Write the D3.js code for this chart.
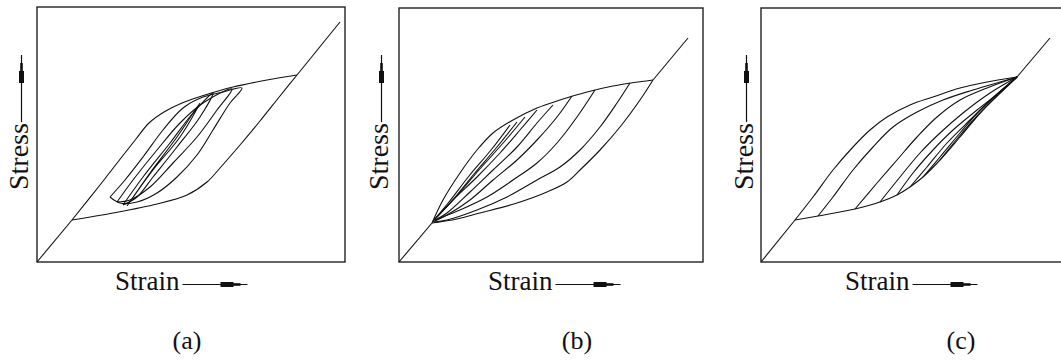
<!DOCTYPE html>
<html>
<head>
<meta charset="utf-8">
<script src="https://cdn.jsdelivr.net/npm/d3@7"></script>
<style>
  body { margin: 0; background: #fff; }
</style>
</head>
<body>
<div id="fig"></div>
<script>
// data units: strain / stress (arbitrary units)

// ---- panel (a): decreasing amplitude loops
var aElasticLow = [[0,0],[35,42]];
var aElasticHigh = [[260,187],[303,240]];
var aOuterUp = [[35,42],[63,77],[84,104],[99,123],[112,139],[127,150],[145,159],[168,167],[196,175],[230,182],[260,187]];
var aOuterDown = [[260,187],[243,166],[223,141],[203,117],[183,94],[170,80],[150,67],[120,58],[76,49],[35,42]];
var aLoop1 = [[73,65],[88,82],[106,105],[126,132],[146,154],[166,165],[186,170],[205,174],
              [193,159],[176,132],[160,107],[140,85],[120,69],[100,60],[83,59],[73,65]];
var aLoop2 = [[80,60],[96,82],[120,112],[143,139],[166,159],[195,173],
              [180,152],[160,125],[136,99],[113,75],[93,62],[80,60]];
var aLoop3 = [[86,57],[106,85],[133,119],[156,149],[176,169],
              [163,145],[140,115],[116,85],[100,65],[86,57]];
var aLoop4 = [[90,56],[113,89],[140,125],[163,159],[143,125],[116,92],[90,56]];

// ---- panel (b): unloading from the loading curve
var bElasticLow = [[0,0],[33,39]];
var bElasticHigh = [[254,182],[289,224]];
var bLoading = [[33,39],[44,62],[61,89],[78,112],[94,129],[114,142],[138,154],[161,162],[188,170],[214,176],[254,182]];
var bUnload1 = [[254,182],[241,162],[221,135],[201,112],[181,92],[168,80],[148,70],[118,59],[81,49],[58,43],[33,39]];
var bUnload2 = [[231,179],[218,159],[201,135],[181,112],[161,95],[138,82],[108,65],[78,52],[48,42],[35,40]];
var bUnload3 = [[196,172],[178,145],[158,119],[138,99],[114,82],[88,65],[61,52],[41,44],[34,40]];
var bUnload4 = [[173,166],[158,145],[138,122],[118,102],[94,82],[71,62],[48,47],[36,41]];
var bUnload5 = [[154,157],[138,139],[118,115],[94,92],[71,70],[48,49],[36,42]];
var bUnload6 = [[138,152],[121,132],[101,109],[78,85],[54,62],[38,45]];
var bUnload7 = [[126,145],[105,120],[80,92],[55,63],[36,43]];
var bUnload8 = [[118,140],[98,115],[75,88],[52,60],[35,42]];
var bUnload9 = [[111,137],[92,112],[70,86],[50,60],[34,41]];

// ---- panel (c): reloading from the unloading curve
var cElasticLow = [[0,0],[34,42]];
var cElasticHigh = [[256,185],[289,224]];
var cUnload = [[256,185],[222,152],[199,125],[179,102],[162,85],[149,75],[136,67],[119,60],[94,53],[57,46],[34,42]];
var cReload1 = [[34,42],[52,65],[72,92],[92,115],[109,132],[126,145],[149,157],[172,165],[199,174],[226,180],[256,185]];
var cReload2 = [[57,46],[72,65],[92,92],[112,115],[132,135],[156,150],[182,162],[212,172],[239,180],[256,185]];
var cReload3 = [[94,53],[116,79],[136,102],[156,125],[176,145],[199,162],[226,174],[256,185]];
var cReload4 = [[119,60],[139,85],[159,109],[179,129],[202,149],[229,169],[256,185]];
var cReload5 = [[136,67],[152,89],[172,112],[192,132],[216,152],[239,170],[256,185]];
var cReload6 = [[149,75],[166,95],[186,119],[209,142],[232,164],[256,185]];
var cReload7 = [[162,85],[179,105],[199,129],[222,155],[256,185]];
var cReload8 = [[179,102],[196,123],[216,146],[236,166],[256,185]];

var xLabel = "Strain";
var yLabel = "Stress";
var captions = ["(a)", "(b)", "(c)"];

var panels = [
  {box: {l:37, t:7, r:345, b:262}, curves: [aElasticLow, aElasticHigh, aOuterUp, aOuterDown, aLoop1, aLoop2, aLoop3, aLoop4],
   yLab: {x:28, y:190}, xLab: {x:115, y:290}, cap: 187},
  {box: {l:399, t:8, r:703, b:262}, curves: [bElasticLow, bElasticHigh, bLoading, bUnload1, bUnload2, bUnload3, bUnload4, bUnload5, bUnload6, bUnload7, bUnload8, bUnload9],
   yLab: {x:388, y:190}, xLab: {x:488, y:290}, cap: 577},
  {box: {l:761, t:8, r:1066, b:262}, curves: [cElasticLow, cElasticHigh, cUnload, cReload1, cReload2, cReload3, cReload4, cReload5, cReload6, cReload7, cReload8],
   yLab: {x:753, y:190}, xLab: {x:845, y:290}, cap: 961}
];

var serif = "'Liberation Serif', 'Times New Roman', 'DejaVu Serif', serif";

var svg = d3.select("#fig").append("svg")
  .attr("width", 1061)
  .attr("height", 360)
  .attr("font-family", serif);

panels.forEach(function(p, i){
  var b = p.box;
  var x = d3.scaleLinear().domain([0, b.r - b.l]).range([b.l, b.r]);
  var y = d3.scaleLinear().domain([0, b.b - b.t]).range([b.b, b.t]);
  var line = d3.line()
    .x(function(d){ return x(d[0]); })
    .y(function(d){ return y(d[1]); })
    .curve(d3.curveCatmullRom.alpha(0.5));

  svg.append("rect")
    .attr("x", b.l).attr("y", b.t)
    .attr("width", b.r - b.l).attr("height", b.b - b.t)
    .attr("fill", "none")
    .attr("stroke", "#222")
    .attr("stroke-width", 1.4);

  svg.append("g").selectAll("path")
    .data(p.curves)
    .join("path")
    .attr("d", line)
    .attr("fill", "none")
    .attr("stroke", "#111")
    .attr("stroke-width", 1.1)
    .attr("stroke-linejoin", "round");

  // vertical label + arrow
  var yt = svg.append("text")
    .attr("transform", "translate(" + p.yLab.x + "," + p.yLab.y + ") rotate(-90)")
    .attr("font-family", serif)
    .attr("font-size", 28)
    .attr("fill", "#111")
    .text(yLabel);
  var yLen = yt.node().getComputedTextLength();
  var ax = p.yLab.x - 6.5;
  var yTop = p.yLab.y - yLen - 1;
  svg.append("line").attr("x1", ax).attr("x2", ax).attr("y1", yTop).attr("y2", 55)
    .attr("stroke", "#111").attr("stroke-width", 1.2);
  svg.append("rect").attr("x", ax - 2.5).attr("y", 71).attr("width", 5).attr("height", 12).attr("fill", "#111");
  svg.append("rect").attr("x", ax - 1.3).attr("y", 63).attr("width", 2.6).attr("height", 9).attr("fill", "#111");

  // horizontal label + arrow
  var xt = svg.append("text")
    .attr("x", p.xLab.x).attr("y", p.xLab.y)
    .attr("font-family", serif)
    .attr("font-size", 27)
    .attr("fill", "#111")
    .text(xLabel);
  var xLen = xt.node().getComputedTextLength();
  var x0 = p.xLab.x + xLen + 3;
  var ay = p.xLab.y - 5.5;
  svg.append("line").attr("x1", x0).attr("x2", x0 + 65).attr("y1", ay).attr("y2", ay)
    .attr("stroke", "#111").attr("stroke-width", 1.2);
  svg.append("rect").attr("x", x0 + 38).attr("y", ay - 2.5).attr("width", 13).attr("height", 5).attr("fill", "#111");
  svg.append("rect").attr("x", x0 + 50).attr("y", ay - 1.3).attr("width", 8).attr("height", 2.6).attr("fill", "#111");

  svg.append("text")
    .attr("x", p.cap).attr("y", 349)
    .attr("text-anchor", "middle")
    .attr("font-family", serif)
    .attr("font-size", 26)
    .attr("fill", "#111")
    .text(captions[i]);
});
</script>
</body>
</html>
